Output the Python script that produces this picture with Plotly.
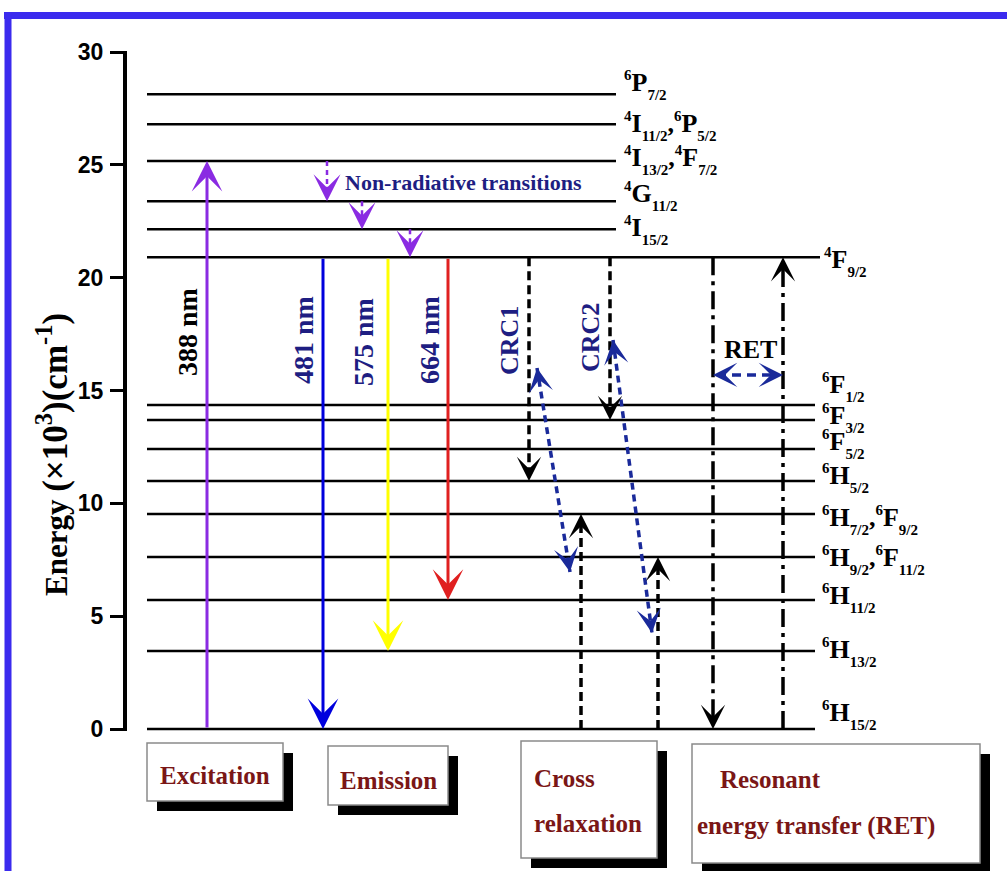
import math
import plotly.graph_objects as go

# ---------------- data ----------------
level_energy = [28.13, 26.80, 25.17, 23.39, 22.15, 20.91, 14.36, 13.69, 12.41,
                10.99, 9.53, 7.62, 5.72, 3.46, 0.0]
level_label = [
    [("6", "P", "7/2")],
    [("4", "I", "11/2"), ("6", "P", "5/2")],
    [("4", "I", "13/2"), ("4", "F", "7/2")],
    [("4", "G", "11/2")],
    [("4", "I", "15/2")],
    [("4", "F", "9/2")],
    [("6", "F", "1/2")],
    [("6", "F", "3/2")],
    [("6", "F", "5/2")],
    [("6", "H", "5/2")],
    [("6", "H", "7/2"), ("6", "F", "9/2")],
    [("6", "H", "9/2"), ("6", "F", "11/2")],
    [("6", "H", "11/2")],
    [("6", "H", "13/2")],
    [("6", "H", "15/2")],
]
label_energy = [28.55, 26.72, 25.22, 23.62, 22.10, 20.70, 15.15, 13.78, 12.62,
                11.12, 9.28, 7.50, 5.82, 3.40, 0.60]

# excitation / emission (from energy, to energy)
radiative_names = ["388 nm", "481 nm", "575 nm", "664 nm"]
radiative_from = [0.0, 20.91, 20.91, 20.91]
radiative_to = [25.17, 0.0, 3.46, 5.72]

# non-radiative cascade
nonrad_from = [25.17, 23.39, 22.15]
nonrad_to = [23.39, 22.15, 20.91]

# cross relaxation channels
crc_names = ["CRC1", "CRC2"]
crc_down_from = [20.91, 20.91]
crc_down_to = [10.99, 13.69]
crc_up_from = [0.0, 0.0]
crc_up_to = [9.53, 7.62]
crc_link_top = [16.0, 17.24]
crc_link_bottom = [6.96, 4.25]

# resonant energy transfer
ret_from = [20.91, 0.0]
ret_to = [0.0, 20.91]
ret_link_energy = 15.69

box_lines = [["Excitation"], ["Emission"], ["Cross", "relaxation"],
             ["Resonant", "energy transfer (RET)"]]
y_ticks = [0, 5, 10, 15, 20, 25, 30]

# ---------------- layout geometry ----------------
W, H = 1007, 871
L, R, T, B = 127, 0, 51, 140
PH = H - T - B
PPU = (729 - 52) / 30.0          # pixels per energy unit
y_lo = -(T + PH - 729) / PPU
y_hi = 30 + (52 - T) / PPU

SERIF = "Liberation Serif"
SANS = "Liberation Sans"
NAVY = "#1E1E82"
DRED = "#7A1616"
LINKBLUE = "#1A2A9A"


def px(x):
    return (x - L) / (W - L - R)


def py(y):
    return (T + PH - y) / PH


def en(ypix):
    return (729 - ypix) / PPU


fig = go.Figure()

# ---- energy levels ----
x_start = 147
x_end = [616] * 5 + [820] + [815] * 9
for e, xe in zip(level_energy, x_end):
    fig.add_trace(go.Scatter(x=[x_start, xe], y=[e, e], mode="lines",
                             line=dict(color="black", width=2.5),
                             hoverinfo="skip", showlegend=False))


def term(parts):
    out = []
    for sup, letter, sub in parts:
        out.append('<sup><span style="font-size:15px">%s</span></sup>%s'
                   '<sub><sub><span style="font-size:15px">%s</span></sub></sub>'
                   % (sup, letter, sub))
    return "<b>" + ",".join(out) + "</b>"


label_x = [622] * 5 + [822] + [820] * 9
for e, parts, lx in zip(label_energy, level_label, label_x):
    fig.add_annotation(x=lx, y=e, xref="x", yref="y", text=term(parts),
                       showarrow=False, xanchor="left", yanchor="middle",
                       font=dict(family=SERIF, size=26, color="black"))


def head(xt, yt, xf, yf, color, width, size, length):
    dxp = xt - xf
    dyp = (yt - yf) * PPU
    n = math.hypot(dxp, dyp)
    ax = xt - dxp / n * length
    ay = yt - dyp / n * length / PPU
    fig.add_annotation(x=xt, y=yt, ax=ax, ay=ay, xref="x", yref="y",
                       axref="x", ayref="y", text="", showarrow=True,
                       arrowhead=3, arrowsize=size, arrowwidth=width,
                       arrowcolor=color)


def dashed(xs, ys, color, width, dash):
    fig.add_trace(go.Scatter(x=xs, y=ys, mode="lines",
                             line=dict(color=color, width=width, dash=dash),
                             hoverinfo="skip", showlegend=False))


# ---- excitation & emission (solid) ----
rad_x = [207, 323, 388, 448]
rad_col = ["#8A2BE2", "#0000DD", "#FFFF00", "#E02020"]
for x, f, t, c in zip(rad_x, radiative_from, radiative_to, rad_col):
    fig.add_annotation(x=x, y=t, ax=x, ay=f, xref="x", yref="y", axref="x",
                       ayref="y", text="", showarrow=True, arrowhead=3,
                       arrowsize=1.7, arrowwidth=3, arrowcolor=c)

rad_lab_x = [187, 303, 363, 429]
rad_lab_e = [en(332), en(340), en(342), en(340)]
rad_lab_c = ["black", NAVY, NAVY, NAVY]
for name, x, e, c in zip(radiative_names, rad_lab_x, rad_lab_e, rad_lab_c):
    fig.add_annotation(x=x, y=e, xref="x", yref="y", text="<b>%s</b>" % name,
                       textangle=-90, showarrow=False,
                       font=dict(family=SERIF, size=28, color=c))

# ---- non-radiative ----
nr_x = [327, 362, 410]
for x, f, t in zip(nr_x, nonrad_from, nonrad_to):
    dashed([x, x], [f, t + 0.4], "#8A2BE2", 2.5, "5px,4px")
    head(x, t, x, f, "#8A2BE2", 2.5, 1.8, 12)
fig.add_annotation(x=463, y=en(182), xref="x", yref="y",
                   text="<b>Non-radiative transitions</b>", showarrow=False,
                   font=dict(family=SERIF, size=22, color=NAVY))

# ---- cross relaxation ----
crc_down_x = [529, 610]
crc_up_x = [581, 658]
crc_link_x = [(537, 570), (613, 652)]
crc_lab_x = [509, 590]
crc_lab_e = [en(341), en(338)]
for i in range(2):
    xd = crc_down_x[i]
    dashed([xd, xd], [crc_down_from[i], crc_down_to[i] + 0.4], "black", 3.5, "9px,5px")
    head(xd, crc_down_to[i], xd, crc_down_from[i], "black", 3, 1.35, 10)
    xu = crc_up_x[i]
    dashed([xu, xu], [crc_up_from[i], crc_up_to[i] - 0.4], "black", 3.5, "9px,5px")
    head(xu, crc_up_to[i], xu, crc_up_from[i], "black", 3, 1.35, 10)
    x1, x2 = crc_link_x[i]
    dashed([x1, x2], [crc_link_top[i], crc_link_bottom[i]], LINKBLUE, 3.5, "7px,5px")
    head(x1, crc_link_top[i], x2, crc_link_bottom[i], LINKBLUE, 3, 1.35, 10)
    head(x2, crc_link_bottom[i], x1, crc_link_top[i], LINKBLUE, 3, 1.35, 10)
    fig.add_annotation(x=crc_lab_x[i], y=crc_lab_e[i], xref="x", yref="y",
                       text="<b>%s</b>" % crc_names[i], textangle=-90,
                       showarrow=False, font=dict(family=SERIF, size=26, color=NAVY))

# ---- resonant energy transfer ----
ret_x = [713, 783]
for x, f, t in zip(ret_x, ret_from, ret_to):
    end = t + (0.4 if t < f else -0.4)
    dashed([x, x], [f, end], "black", 3.5, "18px,6px,4px,6px")
    head(x, t, x, f, "black", 3, 1.35, 10)
dashed([ret_x[0] + 4, ret_x[1] - 4], [ret_link_energy, ret_link_energy], LINKBLUE, 3.5, "9px,6px")
head(ret_x[0], ret_link_energy, ret_x[1], ret_link_energy, LINKBLUE, 3, 1.35, 10)
head(ret_x[1], ret_link_energy, ret_x[0], ret_link_energy, LINKBLUE, 3, 1.35, 10)
fig.add_annotation(x=750, y=en(349), xref="x", yref="y", text="<b>RET</b>",
                   showarrow=False, font=dict(family=SERIF, size=26, color="black"))

# ---- axis title ----
fig.add_annotation(x=px(52), y=py(455), xref="paper", yref="paper",
                   xanchor="center", yanchor="middle",
                   text='<b>Energy <span style="font-size:35px">(×10<sup>3</sup>)(cm<sup>-1</sup>)</span></b>',
                   textangle=-90, showarrow=False,
                   font=dict(family=SERIF, size=31, color="black"))

# ---- boxes ----
shapes = []
boxes = [(147, 743, 283, 801), (328, 746, 448, 805), (521, 741, 657, 858),
         (692, 744, 980, 863)]
for (x0, y0, x1, y1) in boxes:
    shapes.append(dict(type="rect", xref="paper", yref="paper",
                       x0=px(x0 + 10), x1=px(x1 + 10), y0=py(y0 + 10), y1=py(y1 + 10),
                       fillcolor="black", line=dict(width=0)))
    shapes.append(dict(type="rect", xref="paper", yref="paper",
                       x0=px(x0), x1=px(x1), y0=py(y0), y1=py(y1),
                       fillcolor="white", line=dict(color="#8a8a8a", width=1.5)))

box_line_pos = [[(215, 775, "center")], [(388, 780, "center")],
                [(532, 778, "left"), (532, 823, "left")],
                [(718, 779, "left"), (695, 826, "left")]]
for lines, poss in zip(box_lines, box_line_pos):
    for txt, (bx, by, al) in zip(lines, poss):
        fig.add_annotation(x=px(bx), y=py(by), xref="paper", yref="paper",
                           text="<b>%s</b>" % txt, showarrow=False,
                           xanchor=al, yanchor="middle",
                           font=dict(family=SERIF, size=25, color=DRED))

# blue frame (top and left)
shapes.append(dict(type="line", xref="paper", yref="paper", x0=px(4), x1=px(1010),
                   y0=py(15.5), y1=py(15.5), line=dict(color="#3B2BEE", width=7)))
shapes.append(dict(type="line", xref="paper", yref="paper", x0=px(8), x1=px(8),
                   y0=py(12), y1=py(875), line=dict(color="#3B2BEE", width=7)))

fig.update_layout(
    width=W, height=H, margin=dict(l=L, r=R, t=T, b=B),
    paper_bgcolor="white", plot_bgcolor="white", shapes=shapes,
    xaxis=dict(range=[L, W - R], visible=False, fixedrange=True),
    yaxis=dict(range=[y_lo, y_hi], tickvals=y_ticks, ticks="outside", ticklen=13,
               tickwidth=3, tickcolor="black", showline=True, linewidth=4,
               linecolor="black", showgrid=False, zeroline=False,
               ticklabelstandoff=2,
               tickfont=dict(family=SANS, size=23, color="black", weight="bold")),
)

fig.write_html("out.html")
